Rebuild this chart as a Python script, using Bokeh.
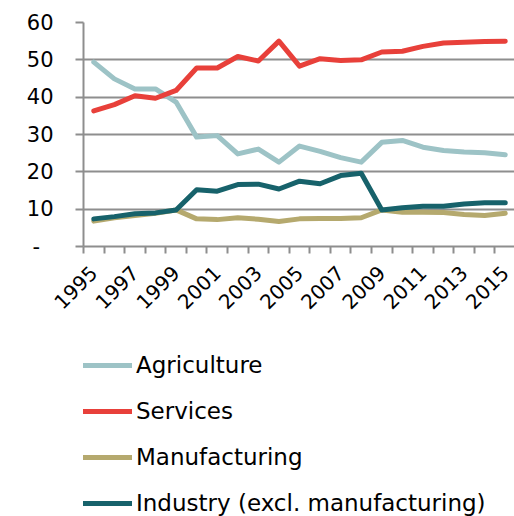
from bokeh.plotting import figure
from bokeh.models import Range1d, FixedTicker, Legend, LegendItem
from bokeh.layouts import column
from bokeh.embed import file_html
from bokeh.resources import INLINE
import math

years = list(range(1995, 2016))
agriculture = [49.4, 44.9, 42.2, 42.2, 38.7, 29.3, 29.7, 24.8, 26.1, 22.6, 26.9, 25.5, 23.8, 22.6, 27.9, 28.4, 26.6, 25.7, 25.3, 25.1, 24.6]
services = [36.3, 38.0, 40.4, 39.7, 41.8, 47.8, 47.8, 50.9, 49.7, 55.0, 48.3, 50.3, 49.8, 50.0, 52.1, 52.3, 53.6, 54.5, 54.7, 54.9, 55.0]
manufacturing = [6.8, 7.7, 8.3, 8.9, 9.8, 7.4, 7.2, 7.7, 7.3, 6.7, 7.4, 7.5, 7.5, 7.7, 9.8, 9.2, 9.2, 9.1, 8.6, 8.3, 8.9]
industry = [7.4, 8.0, 8.75, 9.0, 9.8, 15.2, 14.8, 16.6, 16.7, 15.4, 17.5, 16.8, 19.0, 19.6, 9.8, 10.4, 10.8, 10.8, 11.4, 11.7, 11.7]

series_names = ["Agriculture", "Services", "Manufacturing", "Industry (excl. manufacturing)"]
series_values = [agriculture, services, manufacturing, industry]
colors = ["#9dc3c6", "#e8403a", "#b5a96e", "#17626b"]

y_ticks = [0, 10, 20, 30, 40, 50, 60]
x_label_years = list(range(1995, 2016, 2))

FONT = "DejaVu Sans"
Y_FS = "21px"
X_FS = "20px"
LEG_FS = "23px"
GRAY = "#8e8e8e"

p = figure(width=514, height=330, output_backend="svg", toolbar_location=None,
           x_range=Range1d(1994.5, 2015.45), y_range=Range1d(0, 60),
           min_border_left=83, min_border_top=22, min_border_right=0,
           min_border_bottom=84)
p.outline_line_color = None
p.background_fill_color = "white"
p.border_fill_color = "white"

for name, vals, c in zip(series_names, series_values, colors):
    p.line(years, vals, line_color=c, line_width=5, line_join="round", line_cap="round")

# Y axis
yax = p.yaxis[0]
yax.ticker = FixedTicker(ticks=y_ticks)
yax.major_label_overrides = {0: "-\u00a0\u00a0"}
yax.major_label_text_font = FONT
yax.major_label_text_font_size = Y_FS
yax.major_label_text_color = "black"
yax.major_label_standoff = 22
yax.axis_line_color = GRAY
yax.axis_line_width = 2
yax.major_tick_line_color = GRAY
yax.major_tick_line_width = 2
yax.major_tick_out = 8
yax.major_tick_in = 0
yax.minor_tick_line_color = None

# X axis
xax = p.xaxis[0]
xax.ticker = FixedTicker(ticks=x_label_years, minor_ticks=[y - 0.5 for y in years] + [2015.5])
xax.major_label_text_font = FONT
xax.major_label_text_font_size = X_FS
xax.major_label_text_color = "black"
xax.major_label_orientation = math.pi / 4
xax.major_tick_line_color = None
xax.major_tick_out = 7
xax.minor_tick_line_color = GRAY
xax.minor_tick_line_width = 2
xax.minor_tick_out = 7
xax.minor_tick_in = 0
xax.axis_line_color = GRAY
xax.axis_line_width = 2
xax.major_label_standoff = 16

p.xgrid.grid_line_color = None
p.ygrid.grid_line_color = GRAY
p.ygrid.grid_line_width = 2

# Legend figure (series drawn outside its visible range, only the legend shows)
leg = figure(width=514, height=186, output_backend="svg", toolbar_location=None,
             x_range=Range1d(0, 1), y_range=Range1d(0, 1), min_border=0)
leg.axis.visible = False
leg.grid.grid_line_color = None
leg.outline_line_color = None
leg_renderers = []
for name, vals, c in zip(series_names, series_values, colors):
    leg_renderers.append(leg.line(years, vals, line_color=c, line_width=5, line_cap="round"))

items = [LegendItem(label=n, renderers=[r]) for n, r in zip(series_names, leg_renderers)]
legend = Legend(items=items, orientation="vertical", location=(-6, 0),
                label_text_font=FONT, label_text_font_size=LEG_FS, label_text_color="black",
                glyph_width=55, glyph_height=26, label_standoff=4, spacing=20,
                padding=0, margin=0, border_line_color=None, background_fill_alpha=0)
leg.add_layout(legend, "center")

layout = column(p, leg, spacing=0)
open("out.html", "w").write(file_html(layout, INLINE))
